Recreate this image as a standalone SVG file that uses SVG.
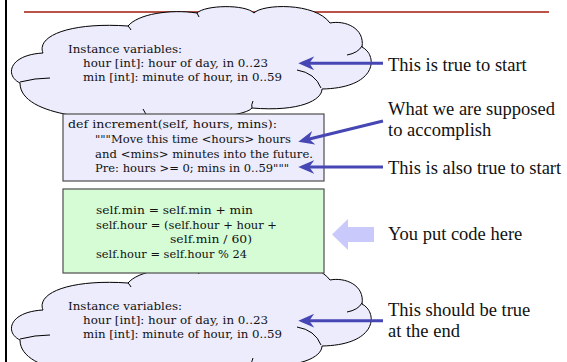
<svg xmlns="http://www.w3.org/2000/svg" xmlns:xlink="http://www.w3.org/1999/xlink" width="567" height="362" viewBox="0 0 567 362">
  <style>
    .cloud-body { fill: #ececfd; stroke: #000; stroke-width: 1; }
    .crease { fill: none; stroke: #000; stroke-width: 1; }
    .box { stroke: #4d4d4d; stroke-width: 1.2; }
    .spec { fill: #ececfd; }
    .code { fill: #d6fcd6; }
    .tw { font-family: "DejaVu Serif", "Liberation Serif", serif; font-size: 11.8px; fill: #111; }
    .lbl { font-family: "Liberation Serif", "Times New Roman", serif; font-size: 18.5px; fill: #111; }
    .conn { stroke: #4646b4; stroke-width: 3; fill: none; marker-end: url(#head); }
  </style>
  <defs>
    <marker id="head" markerUnits="userSpaceOnUse" viewBox="0 0 16 14" markerWidth="16" markerHeight="14" refX="12" refY="7" orient="auto">
      <path d="M0,0 L16,7 L0,14 L5,7 Z" fill="#4646b4"/>
    </marker>
    <g id="cloud-shape">
      <path class="cloud-body" d="M43,53 C36,36 70,22 128,26 C138,14 170,9 197,13 C205,5 245,4 254,13 C262,4 315,2 330,23 C345,20 365,28 362,47 C378,55 378,88 322,89 C322,100 300,112 252,108 C245,118 170,122 148,117 C110,122 20,118 20,83 C5,76 8,55 43,53 Z"/>
      <path class="crease" d="M20,82 Q35,78 50,78 M128,26 q2,2 3,4 M197,13 q1,2 2,4 M362,46 Q358,53 347,55 M297,70 Q315,73 321,88 M252,108 Q251,105 253,101 M148,117 Q145,113 143,109"/>
    </g>
  </defs>

  <rect width="567" height="362" fill="#ffffff"/>

  <g id="frame">
    <line x1="6" y1="0" x2="6" y2="362" stroke="#000" stroke-width="2"/>
    <line x1="24" y1="12" x2="549" y2="12" stroke="#a51b0b" stroke-width="1.5"/>
  </g>

  <g id="cloud-pre">
    <use href="#cloud-shape"/>
    <text class="tw" x="68" y="53" textLength="114" lengthAdjust="spacingAndGlyphs">Instance variables:</text>
    <text class="tw" x="83" y="67" textLength="185" lengthAdjust="spacingAndGlyphs">hour [int]: hour of day, in 0..23</text>
    <text class="tw" x="83" y="81" textLength="199" lengthAdjust="spacingAndGlyphs">min [int]: minute of hour, in 0..59</text>
  </g>

  <g id="cloud-post">
    <use href="#cloud-shape" transform="translate(0,257)"/>
    <text class="tw" x="68" y="310" textLength="114" lengthAdjust="spacingAndGlyphs">Instance variables:</text>
    <text class="tw" x="83" y="324" textLength="185" lengthAdjust="spacingAndGlyphs">hour [int]: hour of day, in 0..23</text>
    <text class="tw" x="83" y="338" textLength="199" lengthAdjust="spacingAndGlyphs">min [int]: minute of hour, in 0..59</text>
  </g>

  <g id="method-spec">
    <rect class="box spec" x="63" y="114" width="261" height="67"/>
    <text class="tw" x="68" y="128" textLength="209" lengthAdjust="spacingAndGlyphs">def increment(self, hours, mins):</text>
    <text class="tw" x="95" y="143" textLength="196" lengthAdjust="spacingAndGlyphs">"""Move this time &lt;hours&gt; hours</text>
    <text class="tw" x="95" y="157.5" textLength="218" lengthAdjust="spacingAndGlyphs">and &lt;mins&gt; minutes into the future.</text>
    <text class="tw" x="95" y="172" textLength="194" lengthAdjust="spacingAndGlyphs">Pre: hours &gt;= 0; mins in 0..59"""</text>
  </g>

  <g id="code-box">
    <rect class="box code" x="63" y="189" width="261" height="84"/>
    <text class="tw" x="96" y="214" textLength="157" lengthAdjust="spacingAndGlyphs">self.min = self.min + min</text>
    <text class="tw" x="96" y="228.5" textLength="181" lengthAdjust="spacingAndGlyphs">self.hour = (self.hour + hour +</text>
    <text class="tw" x="170" y="243" textLength="82" lengthAdjust="spacingAndGlyphs">self.min / 60)</text>
    <text class="tw" x="96" y="257.5" textLength="151" lengthAdjust="spacingAndGlyphs">self.hour = self.hour % 24</text>
  </g>

  <g id="connectors">
    <line class="conn" x1="383" y1="63.3" x2="302.3" y2="63.3"/>
    <line class="conn" x1="383" y1="121" x2="302.2" y2="140.75"/>
    <line class="conn" x1="383" y1="167" x2="302.3" y2="167"/>
    <line class="conn" x1="383" y1="320.7" x2="302.3" y2="320.7"/>
    <polygon id="hint-arrow" points="332,234.5 348,219 348,227 374,227 374,242 348,242 348,250" fill="#c9c9fb"/>
  </g>

  <g id="label-true-start"><text class="lbl" x="388" y="70.5">This is true to start</text></g>
  <g id="label-accomplish">
    <text class="lbl" x="388" y="115">What we are supposed</text>
    <text class="lbl" x="388" y="135.5">to accomplish</text>
  </g>
  <g id="label-also-true"><text class="lbl" x="388" y="174">This is also true to start</text></g>
  <g id="label-code-here"><text class="lbl" x="388" y="240">You put code here</text></g>
  <g id="label-end">
    <text class="lbl" x="388" y="316">This should be true</text>
    <text class="lbl" x="388" y="336.5">at the end</text>
  </g>
</svg>
